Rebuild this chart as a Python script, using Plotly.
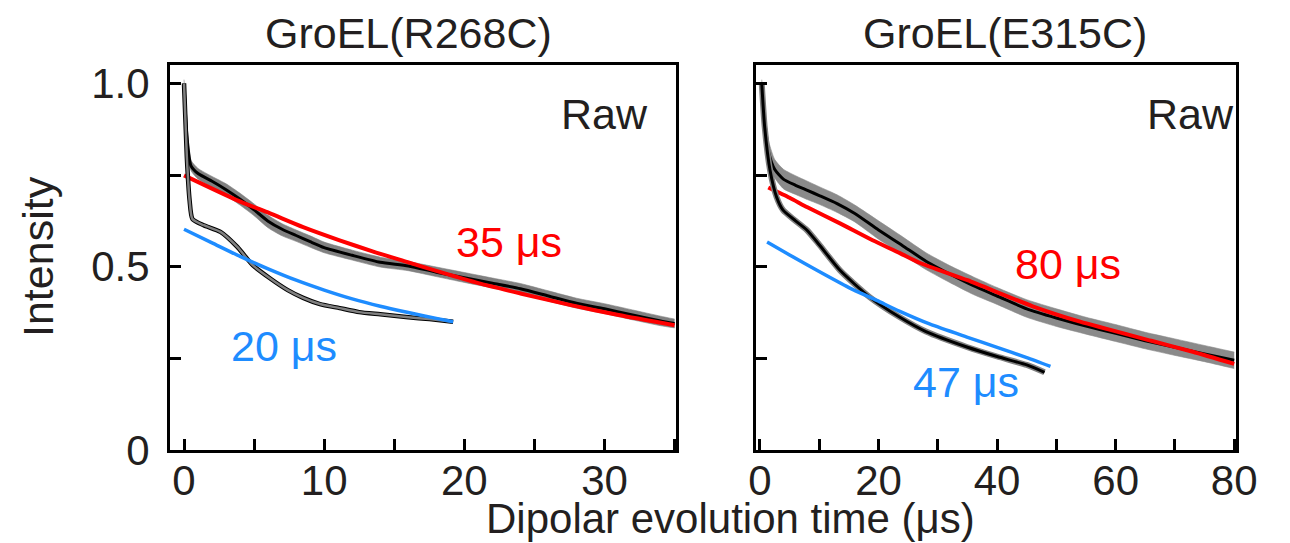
import plotly.graph_objects as go

# ---------------- data ----------------
# GroEL(R268C) upper (raw) trace: noise envelope and fit
r268_x_raw = [0, 0.2, 0.5, 1, 2, 3, 4, 5, 6, 7, 8, 9, 10, 12, 14, 16, 18, 20, 22, 24, 26, 28, 30, 32, 34, 35]
r268_raw_hi = [1.01, 0.88, 0.79, 0.768, 0.746, 0.726, 0.70, 0.671, 0.64, 0.617, 0.60, 0.584, 0.567, 0.545, 0.526, 0.514, 0.499, 0.484, 0.469, 0.454, 0.434, 0.414, 0.399, 0.382, 0.365, 0.357]
r268_raw_lo = [0.98, 0.84, 0.762, 0.739, 0.716, 0.694, 0.668, 0.639, 0.606, 0.584, 0.569, 0.553, 0.538, 0.518, 0.499, 0.489, 0.473, 0.457, 0.442, 0.427, 0.406, 0.387, 0.372, 0.355, 0.339, 0.333]
r268_fit = [1.0, 0.86, 0.775, 0.754, 0.733, 0.71, 0.684, 0.655, 0.624, 0.602, 0.585, 0.568, 0.552, 0.531, 0.512, 0.502, 0.485, 0.47, 0.455, 0.44, 0.42, 0.40, 0.385, 0.368, 0.352, 0.345]

# GroEL(R268C) second (lower) trace
r268_x_low = [0, 0.2, 0.4, 0.6, 1.4, 2.6, 3.8, 4.9, 6.1, 7.4, 8.5, 9.7, 11.1, 12.5, 14, 16, 17.5, 19.2]
r268_low = [1.0, 0.80, 0.68, 0.63, 0.613, 0.595, 0.554, 0.504, 0.469, 0.436, 0.415, 0.398, 0.387, 0.376, 0.37, 0.362, 0.357, 0.35]

# exponential background fits (R268C)
r268_red_x = [0, 3.8, 6.1, 8.5, 11.1, 13.5, 15.9, 18.3, 21, 24, 27.6, 31, 35]
r268_red = [0.749, 0.681, 0.646, 0.608, 0.572, 0.541, 0.513, 0.485, 0.455, 0.427, 0.395, 0.368, 0.34]
r268_blue_x = [0, 2, 4, 6, 8, 10, 12, 14, 16, 18, 19.2]
r268_blue = [0.602, 0.565, 0.528, 0.494, 0.463, 0.436, 0.412, 0.392, 0.375, 0.359, 0.35]

# GroEL(E315C) upper (raw) trace
e315_x_raw = [0.3, 0.8, 1.5, 2.5, 4, 6, 8, 10, 13, 16, 20, 24, 28, 32, 36, 40, 45, 50, 55, 60, 65, 70, 75, 80]
e315_raw_hi = [1.01, 0.92, 0.84, 0.792, 0.765, 0.748, 0.733, 0.718, 0.696, 0.668, 0.625, 0.582, 0.538, 0.503, 0.472, 0.443, 0.41, 0.385, 0.362, 0.342, 0.321, 0.303, 0.285, 0.267]
e315_raw_lo = [0.98, 0.875, 0.785, 0.742, 0.712, 0.697, 0.683, 0.67, 0.648, 0.622, 0.575, 0.534, 0.492, 0.457, 0.424, 0.397, 0.362, 0.337, 0.316, 0.296, 0.276, 0.258, 0.241, 0.222]
e315_fit = [1.0, 0.9, 0.81, 0.765, 0.738, 0.722, 0.708, 0.694, 0.672, 0.645, 0.60, 0.558, 0.515, 0.48, 0.448, 0.42, 0.385, 0.36, 0.338, 0.318, 0.298, 0.28, 0.262, 0.245]

# GroEL(E315C) second (lower) trace
e315_x_low = [0.3, 0.8, 1.7, 2.8, 3.9, 6, 7.9, 10, 13.5, 18.5, 23.6, 28, 34.9, 40, 45, 48]
e315_low = [1.0, 0.88, 0.763, 0.69, 0.654, 0.625, 0.60, 0.56, 0.49, 0.417, 0.362, 0.323, 0.281, 0.255, 0.232, 0.212]

# exponential background fits (E315C)
e315_red_x = [1.4, 5, 8, 13.5, 19, 23.6, 27, 35, 46, 54, 66, 73, 80]
e315_red = [0.716, 0.688, 0.662, 0.618, 0.572, 0.537, 0.51, 0.463, 0.392, 0.35, 0.298, 0.268, 0.235]
e315_blue_x = [1.2, 5, 9.6, 15, 19.7, 23.6, 28.7, 34.9, 40, 45, 49]
e315_blue = [0.567, 0.532, 0.49, 0.443, 0.408, 0.378, 0.343, 0.308, 0.28, 0.252, 0.228]

panel_titles = ["GroEL(R268C)", "GroEL(E315C)"]
raw_label = "Raw"
tau_labels = ["35 μs", "20 μs", "80 μs", "47 μs"]
y_tickvals = [0, 0.5, 1.0]
y_ticktext = ["0", "0.5", "1.0"]

# ---------------- styling ----------------
FONT = "Liberation Sans, Arial, Helvetica, sans-serif"
TXT = "#231f20"
GRAY = "#808080"
RED = "#ff0000"
BLUE = "#1e8cff"
W, H = 1290, 543

fig = go.Figure()

def add(x, y, color, width, xa, ya, **kw):
    fig.add_trace(go.Scatter(x=x, y=y, mode="lines", xaxis=xa, yaxis=ya,
                             line=dict(color=color, width=width, shape="spline", smoothing=0.6),
                             hoverinfo="skip", showlegend=False, **kw))

def band(x, lo, hi, color, xa, ya):
    add(x, lo, color, 0.6, xa, ya)
    add(x, hi, color, 0.6, xa, ya, fill="tonexty", fillcolor=color)

# left panel
band(r268_x_raw, r268_raw_lo, r268_raw_hi, GRAY, "x", "y")
add(r268_x_raw, r268_fit, "black", 3, "x", "y")
add(r268_red_x, r268_red, RED, 4, "x", "y")
add(r268_x_low, r268_low, "black", 4.5, "x", "y")
add(r268_x_low, r268_low, GRAY, 2.5, "x", "y")
add(r268_blue_x, r268_blue, BLUE, 3.5, "x", "y")

# right panel
band(e315_x_raw, e315_raw_lo, e315_raw_hi, "#8a8a8a", "x2", "y2")
add(e315_x_raw, e315_fit, "black", 3, "x2", "y2")
add(e315_red_x, e315_red, RED, 4, "x2", "y2")
add(e315_x_low, e315_low, GRAY, 6, "x2", "y2")
add(e315_x_low, e315_low, "black", 3, "x2", "y2")
add(e315_blue_x, e315_blue, BLUE, 3.5, "x2", "y2")

def px(v):
    return v / W

def py(v):
    return 1 - v / H

axis_common = dict(showline=True, linecolor="black", linewidth=3, mirror=True,
                   ticks="inside", ticklen=11, tickwidth=2.5, tickcolor="black",
                   showgrid=False, zeroline=False, automargin=False,
                   tickfont=dict(family=FONT, size=42, color=TXT))
minor_common = dict(ticks="inside", ticklen=11, tickwidth=2.5, tickcolor="black", showgrid=False)

fig.update_layout(
    width=W, height=H, margin=dict(l=0, r=0, t=0, b=0, autoexpand=False),
    paper_bgcolor="white", plot_bgcolor="white",
    xaxis=dict(domain=[px(170), px(676)], range=[-1, 35.1], anchor="y",
               tickmode="array", tickvals=[0, 10, 20, 30], ticklabelstandoff=-8,
               minor=dict(dtick=5, tick0=0, **minor_common), **axis_common),
    yaxis=dict(domain=[py(450), py(65)], range=[0, 1.05], anchor="x",
               tickmode="array", tickvals=y_tickvals, ticktext=y_ticktext, ticklabelstandoff=9,
               minor=dict(dtick=0.25, tick0=0, **minor_common), **axis_common),
    xaxis2=dict(domain=[px(756), px(1236)], range=[-0.67, 80.3], anchor="y2",
                tickmode="array", tickvals=[0, 20, 40, 60, 80], ticklabelstandoff=-8,
                minor=dict(dtick=10, tick0=0, **minor_common), **axis_common),
    yaxis2=dict(domain=[py(450), py(65)], range=[0, 1.05], anchor="x2",
                tickmode="array", tickvals=y_tickvals, showticklabels=False,
                minor=dict(dtick=0.25, tick0=0, **minor_common), **axis_common),
)

def note(text, x, y, color=TXT, size=43, angle=0):
    fig.add_annotation(text=text, x=px(x), y=py(y), xref="paper", yref="paper",
                       xanchor="center", yanchor="middle", showarrow=False, textangle=angle,
                       font=dict(family=FONT, size=size, color=color))

note(panel_titles[0], 408, 33)
note(panel_titles[1], 1005, 33)
note(raw_label, 604, 114)
note(raw_label, 1190, 114)
note(tau_labels[0], 509, 242, RED)
note(tau_labels[1], 284, 346, BLUE)
note(tau_labels[2], 1068, 264, RED)
note(tau_labels[3], 966, 382, BLUE)
note("Intensity", 38, 257, angle=-90)
note("Dipolar evolution time (μs)", 730, 518, size=42)

fig.write_html("out.html", config={"displayModeBar": False},
               post_script="document.body.style.margin='0px';")
